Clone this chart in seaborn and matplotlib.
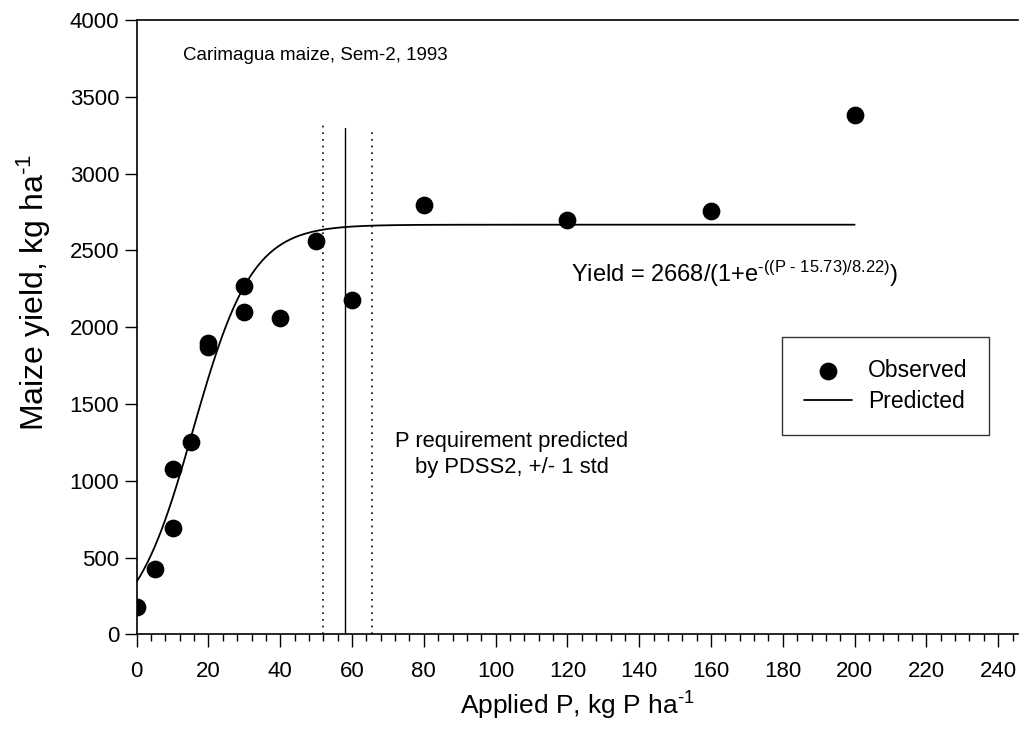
import matplotlib

matplotlib.use("Agg")
import matplotlib.pyplot as plt
import numpy as np
import pandas as pd
import seaborn as sns
from matplotlib.ticker import MultipleLocator

# Observed yields
applied_p = [0, 5, 10, 10, 15, 20, 20, 30, 30, 40, 50, 60, 80, 120, 160, 200]
yield_obs = [175, 425, 1075, 690, 1255, 1900, 1870, 2270, 2100, 2060, 2565, 2180, 2795, 2700, 2755, 3380]

# Logistic fit parameters
fit_a = 2668
fit_x0 = 15.73
fit_b = 8.22
fit_p = list(range(0, 201))

# PDSS2 P requirement and +/- 1 std
p_req = 58
p_req_low = 52
p_req_high = 65.5

x_ticks = list(range(0, 241, 20))
y_ticks = list(range(0, 4001, 500))

observed = pd.DataFrame({"P": applied_p, "Yield": yield_obs})
predicted = pd.DataFrame({"P": fit_p})
predicted["Yield"] = fit_a / (1 + np.exp(-(predicted["P"] - fit_x0) / fit_b))

sns.set_theme(style="ticks", rc={"text.color": "black", "axes.labelcolor": "black",
                                 "xtick.color": "black", "ytick.color": "black"})
plt.rcParams["font.family"] = ["Liberation Sans", "DejaVu Sans"]
plt.rcParams["mathtext.fontset"] = "custom"
plt.rcParams["mathtext.rm"] = "Liberation Sans"
plt.rcParams["mathtext.default"] = "regular"

fig = plt.figure(figsize=(10.2, 7.48), dpi=100)
ax = fig.add_axes([0.134, 0.152, 0.864, 0.821])

sns.lineplot(data=predicted, x="P", y="Yield", color="black", linewidth=1.3, label="Predicted", ax=ax)
sns.scatterplot(data=observed, x="P", y="Yield", color="black", s=140, edgecolor="black", label="Observed", ax=ax, zorder=3)

ax.plot([p_req, p_req], [0, 3300], color="black", linewidth=1.0)
ax.plot([p_req_low, p_req_low], [0, 3330], color="black", linewidth=1.2, linestyle=(0, (1, 3)))
ax.plot([p_req_high, p_req_high], [0, 3300], color="black", linewidth=1.2, linestyle=(0, (1, 3)))

ax.set_xlim(0, 245.5)
ax.set_ylim(0, 4000)
ax.set_xticks(x_ticks)
ax.set_yticks(y_ticks)
ax.xaxis.set_minor_locator(MultipleLocator(4))
ax.tick_params(axis="both", which="major", labelsize=16, length=9, width=1)
ax.tick_params(axis="x", which="minor", length=5, width=1)
ax.tick_params(axis="x", which="major", pad=10)

ax.set_xlabel(r"Applied P, kg P ha$^{\text{-1}}$", fontsize=19, labelpad=6)
ax.set_ylabel(r"Maize yield, kg ha$^{\text{-1}}$", fontsize=23)
ax.yaxis.set_label_coords(-0.095, 0.557)

for side in ["left", "bottom", "top"]:
    ax.spines[side].set_color("black")
    ax.spines[side].set_linewidth(1.2)
ax.spines["right"].set_visible(False)

ax.text(13, 3770, "Carimagua maize, Sem-2, 1993", fontsize=13.5, va="center", ha="left")
ax.text(121, 2350, r"Yield = 2668/(1+e$^{\text{-((P - 15.73)/8.22)}}$)", fontsize=17, va="center", ha="left")
ax.text(104.5, 1170, "P requirement predicted\nby PDSS2, +/- 1 std", fontsize=15.8, va="center", ha="center",
        linespacing=1.3)

handles, labels = ax.get_legend_handles_labels()
order = [labels.index("Observed"), labels.index("Predicted")]
leg = ax.legend([handles[i] for i in order], [labels[i] for i in order],
                loc="upper left", bbox_to_anchor=(0.732, 0.484), fontsize=16.5,
                frameon=True, fancybox=False, edgecolor="black", borderpad=0.95,
                handlelength=2.1, labelspacing=0.35, handletextpad=0.7, borderaxespad=0)
leg.get_frame().set_linewidth(1.0)

fig.savefig("out.png", dpi=100)
